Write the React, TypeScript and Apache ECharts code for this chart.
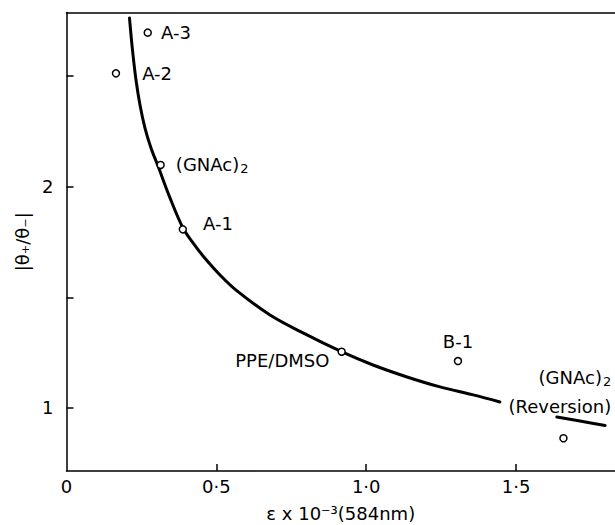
import React, { useEffect, useRef } from "react";
import * as echarts from "echarts";

// Measured points (x: ε×10⁻³ at 584 nm, y: |θ+/θ−|)
const pointNames = ["A-3", "A-2", "(GNAc){s|2}", "A-1", "PPE/DMSO", "B-1", "(GNAc){s|2}\n(Reversion)"];
const pointX = [0.271, 0.165, 0.314, 0.388, 0.918, 1.306, 1.658];
const pointY = [2.696, 2.512, 2.098, 1.807, 1.254, 1.212, 0.863];

// Fitted curve (main part)
const curveX = [0.2102, 0.2202, 0.2319, 0.2452, 0.2619, 0.2819, 0.3053, 0.3453, 0.3887, 0.4221, 0.4555, 0.5122, 0.5689, 0.679, 0.789, 0.9193, 1.0227, 1.1361, 1.2462, 1.357, 1.446];
const curveY = [2.762, 2.617, 2.482, 2.369, 2.265, 2.175, 2.093, 1.949, 1.813, 1.746, 1.687, 1.601, 1.529, 1.42, 1.339, 1.253, 1.194, 1.14, 1.095, 1.059, 1.027];

// Curve continuation after the label gap
const tailX = [1.636, 1.713, 1.797];
const tailY = [0.959, 0.941, 0.921];

// Axis ticks & labels
const xTickValues = [0.5, 1.0, 1.5];
const xLabelValues = [0, 0.5, 1.0, 1.5];
const xLabelTexts = ["0", "0·5", "1·0", "1·5"];
const yTickValues = [1, 1.5, 2, 2.5];
const yLabelValues = [1, 2];
const yLabelTexts = ["1", "2"];

const FONT = "DejaVu Sans";
const FS = 18;

// label placement styles (per point)
const labelStyles: any[] = [
  { position: "right", distance: 9 },
  { position: "right", distance: 22 },
  { position: "right", distance: 11 },
  { position: "right", distance: 16, offset: [0, -6] },
  { position: "left", distance: 8, offset: [0, 9] },
  { position: "top", distance: 6 },
  { position: [52, -13], align: "right", verticalAlign: "bottom", lineHeight: 29 },
];

export default function App() {
  const ref = useRef<HTMLDivElement>(null);
  useEffect(() => {
    if (!ref.current) return;
    const chart = echarts.init(ref.current, undefined, { renderer: "svg" });
    const fmt = (vals: number[], texts: string[]) => (v: number) => {
      const i = vals.findIndex((u) => Math.abs(u - v) < 1e-6);
      return i >= 0 ? texts[i] : "";
    };
    chart.setOption({
      animation: false,
      backgroundColor: "#fff",
      grid: { left: 66.5, right: 0, top: 12.5, bottom: 54, containLabel: false, outerBoundsMode: "none" },
      xAxis: [
        {
          type: "value",
          min: 0,
          max: 1.83,
          position: "bottom",
          splitLine: { show: false },
          axisLine: { show: true, lineStyle: { color: "#000", width: 1.5 } },
          axisTick: { show: true, inside: true, length: 7, customValues: xTickValues, lineStyle: { color: "#000", width: 1.5 } },
          axisLabel: {
            show: true,
            customValues: xLabelValues,
            formatter: fmt(xLabelValues, xLabelTexts),
            color: "#000",
            fontFamily: FONT,
            fontSize: FS,
            margin: 6,
          },
          name: "ε x 10⁻³(584nm)",
          nameLocation: "middle",
          nameGap: 33,
          nameTextStyle: { color: "#000", fontFamily: FONT, fontSize: FS },
        },
        {
          type: "value",
          min: 0,
          max: 1.83,
          position: "top",
          splitLine: { show: false },
          axisLine: { show: true, lineStyle: { color: "#000", width: 1.5 } },
          axisTick: { show: false },
          axisLabel: { show: false },
        },
      ],
      yAxis: {
        type: "value",
        min: 0.715,
        max: 2.787,
        splitLine: { show: false },
        axisLine: { show: true, lineStyle: { color: "#000", width: 1.5 } },
        axisTick: { show: true, inside: true, length: 7, customValues: yTickValues, lineStyle: { color: "#000", width: 1.5 } },
        axisLabel: {
          show: true,
          customValues: yLabelValues,
          formatter: fmt(yLabelValues, yLabelTexts),
          color: "#000",
          fontFamily: FONT,
          fontSize: FS,
          margin: 13,
        },
        name: "|θ₊/θ₋|",
        nameLocation: "middle",
        nameRotate: 90,
        nameGap: 34,
        nameTextStyle: { color: "#000", fontFamily: FONT, fontSize: FS },
      },
      series: [
        {
          type: "line",
          data: curveX.map((x, i) => [x, curveY[i]]),
          smooth: 0.35,
          showSymbol: false,
          lineStyle: { color: "#000", width: 3, join: "round", cap: "round" },
          z: 2,
        },
        {
          type: "line",
          data: tailX.map((x, i) => [x, tailY[i]]),
          smooth: 0.3,
          showSymbol: false,
          lineStyle: { color: "#000", width: 3, cap: "round" },
          z: 2,
        },
        {
          type: "scatter",
          symbol: "circle",
          symbolSize: 7,
          itemStyle: { color: "#fff", borderColor: "#000", borderWidth: 1.5, opacity: 1 },
          z: 5,
          data: pointX.map((x, i) => ({
            value: [x, pointY[i]],
            name: pointNames[i],
            label: {
              show: true,
              formatter: pointNames[i],
              color: "#000",
              fontFamily: FONT,
              fontSize: FS,
              rich: {
                s: { fontSize: 13, fontFamily: FONT, color: "#000", lineHeight: 18, padding: [8, 0, 0, 1] },
              },
              ...labelStyles[i],
            },
          })),
        },
      ],
    });
    return () => chart.dispose();
  }, []);
  return <div ref={ref} style={{ position: "fixed", left: 0, top: 0, width: 615, height: 525 }} />;
}
